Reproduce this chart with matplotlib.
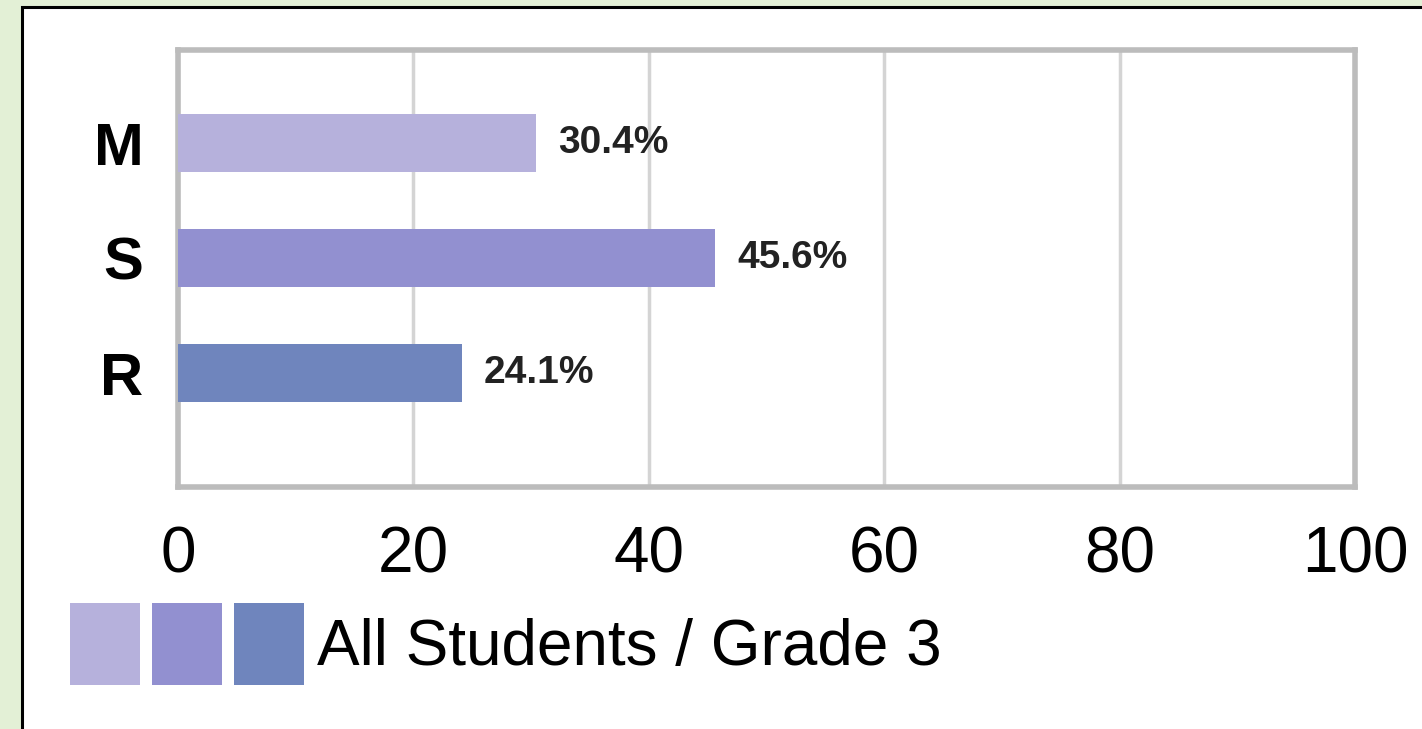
import matplotlib.pyplot as plt
from matplotlib.patches import Rectangle
from matplotlib.legend_handler import HandlerTuple

# data
categorias = ["M", "S", "R"]
valores = [30.4, 45.6, 24.1]
cores = ["#b6b1dc", "#9290d0", "#6f85bd"]
xticks = [0, 20, 40, 60, 80, 100]
legenda = "All Students / Grade 3"

plt.rcParams['font.family'] = ['Liberation Sans', 'DejaVu Sans']

fig = plt.figure(figsize=(14.22, 7.29), dpi=100, facecolor="#e3f0d6")
# painel branco com borda preta
fig.patches.append(Rectangle((22 / 1422, -0.01), 1.1, 1 - 7 / 729 + 0.01,
                             transform=fig.transFigure, facecolor="white",
                             edgecolor="black", linewidth=2.2, zorder=-5))

ax = fig.add_axes([178 / 1422, 1 - 487 / 729, (1355 - 178) / 1422, (487 - 50) / 729])
ax.set_facecolor("white")

pos = list(range(len(categorias)))
barras = ax.barh(pos, valores, height=0.5, color=cores, zorder=3)
ax.set_xlim(0, 100)
ax.set_ylim(2.99, -0.81)

ax.set_xticks(xticks)
ax.set_xticklabels([str(t) for t in xticks], fontsize=46)
ax.set_yticks(pos)
ax.set_yticklabels(categorias, fontsize=43, fontweight="bold")
ax.tick_params(axis="x", length=0, pad=28)
ax.tick_params(axis="y", length=0, pad=25)

ax.grid(axis="x", color="#d4d4d4", linewidth=2.5, zorder=1)
for s in ax.spines.values():
    s.set_color("#bcbcbc")
    s.set_linewidth(4)

ax.bar_label(barras, labels=[f"{v}%" for v in valores], padding=16,
             fontsize=28, fontweight="bold", color="#222222")

handles = tuple(Rectangle((0, 0), 1, 1, facecolor=c, edgecolor="none") for c in cores)
leg = fig.legend([handles], [legenda], handler_map={tuple: HandlerTuple(ndivide=None, pad=0.19)},
                 loc="upper left", bbox_to_anchor=(70 / 1422, 1 - 603 / 729),
                 fontsize=46, frameon=False, handlelength=3.66, handleheight=1.6,
                 handletextpad=0.2, borderaxespad=0, borderpad=0)

fig.savefig("out.png", dpi=100, facecolor=fig.get_facecolor())
